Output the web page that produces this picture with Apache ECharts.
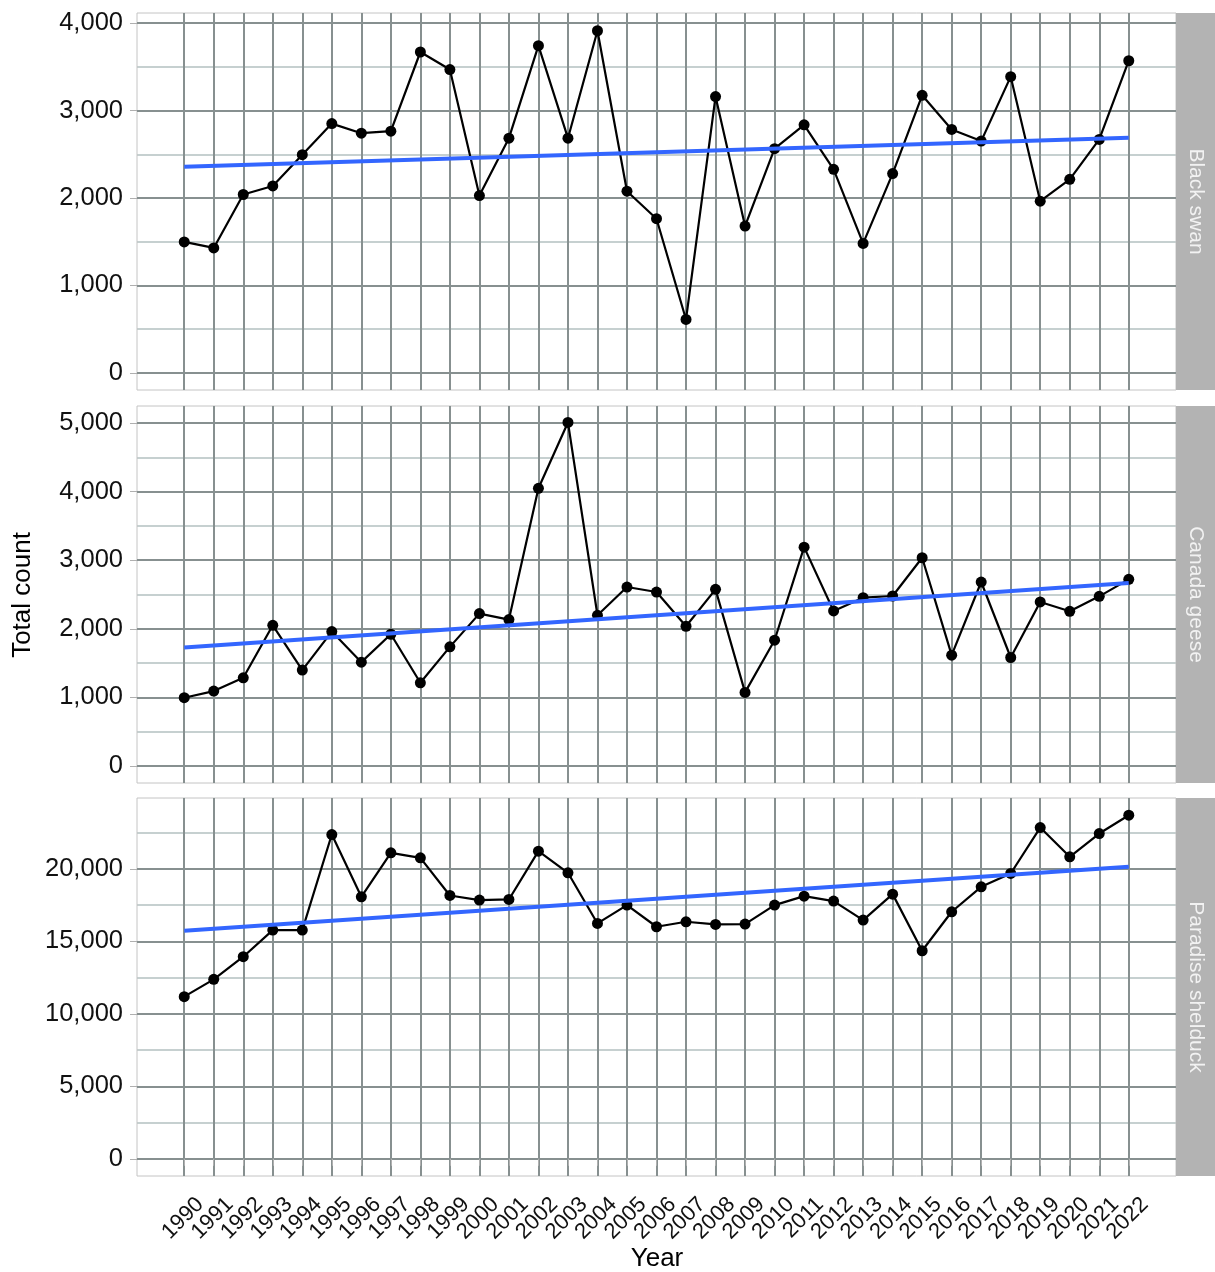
<!DOCTYPE html>
<html><head><meta charset="utf-8">
<script src="https://cdn.jsdelivr.net/npm/echarts@6/dist/echarts.min.js"></script>
<style>html,body{margin:0;padding:0;background:#fff}#c{width:1215px;height:1272px}</style>
</head><body><div id="c"></div>
<script>
const years = [1990,1991,1992,1993,1994,1995,1996,1997,1998,1999,2000,2001,2002,2003,2004,2005,2006,2007,2008,2009,2010,2011,2012,2013,2014,2015,2016,2017,2018,2019,2020,2021,2022];
const blackSwan = [1498,1429,2040,2138,2495,2851,2741,2764,3670,3469,2028,2684,3742,2684,3913,2078,1763,611,3160,1679,2564,2837,2328,1481,2279,3175,2784,2651,3388,1964,2214,2670,3570];
const canadaGeese = [994,1091,1285,2051,1397,1959,1513,1920,1212,1736,2221,2134,4049,5010,2197,2609,2536,2037,2575,1072,1833,3191,2260,2454,2478,3036,1615,2682,1581,2391,2255,2473,2721];
const paradiseShelduck = [11183,12377,13938,15775,15775,22365,18071,21102,20758,18163,17842,17888,21217,19725,16234,17497,16005,16349,16165,16188,17497,18117,17773,16464,18255,14351,17038,18760,19679,22847,20827,22434,23697];
const trendYears = [1990, 2022];
const blackSwanTrend = [2358, 2689];
const canadaGeeseTrend = [1726, 2667];
const paradiseShelduckTrend = [15729, 20138];
const panelNames = ['Black swan', 'Canada geese', 'Paradise shelduck'];
const blackSwanTicks = [0, 1000, 2000, 3000, 4000];
const blackSwanMinor = [500, 1500, 2500, 3500];
const canadaGeeseTicks = [0, 1000, 2000, 3000, 4000, 5000];
const canadaGeeseMinor = [500, 1500, 2500, 3500, 4500];
const paradiseShelduckTicks = [0, 5000, 10000, 15000, 20000];
const paradiseShelduckMinor = [2500, 7500, 12500, 17500, 22500];

const panels = [
  {name: panelNames[0], values: blackSwan, trend: blackSwanTrend, ticks: blackSwanTicks, minor: blackSwanMinor, min: -196, max: 4116, top: 13, height: 377},
  {name: panelNames[1], values: canadaGeese, trend: canadaGeeseTrend, ticks: canadaGeeseTicks, minor: canadaGeeseMinor, min: -250, max: 5250, top: 406, height: 377},
  {name: panelNames[2], values: paradiseShelduck, trend: paradiseShelduckTrend, ticks: paradiseShelduckTicks, minor: paradiseShelduckMinor, min: -1185, max: 24885, top: 798, height: 378}
];

const LEFT = 137, WIDTH = 1039;
const MAJOR = '#879090', MINOR = '#c6d0d0', FONT = 'Liberation Sans, Arial, sans-serif';

const grid = [], xAxis = [], yAxis = [], series = [], graphic = [];
panels.forEach((p, i) => {
  grid.push({left: LEFT, top: p.top, width: WIDTH, height: p.height, show: true, borderColor: '#c4c4c4', borderWidth: 1, backgroundColor: 'transparent', containLabel: false});
  const last = i === panels.length - 1;
  xAxis.push({
    type: 'value', gridIndex: i, min: 1988.4, max: 2023.6,
    axisLine: {show: false},
    axisTick: {show: last, customValues: years, length: 7, lineStyle: {color: '#b0b0b0', width: 1}},
    axisLabel: {show: false},
    splitLine: {show: true, lineStyle: {color: MAJOR, width: 2}}
  });
  yAxis.push({
    type: 'value', gridIndex: i, min: p.min, max: p.max,
    axisLine: {show: false},
    axisTick: {show: true, customValues: p.ticks, length: 7, lineStyle: {color: '#b0b0b0', width: 1}},
    axisLabel: {customValues: p.ticks, margin: 14, fontSize: 25.5, color: '#111', fontFamily: FONT, formatter: v => v.toLocaleString('en-US')},
    splitLine: {show: true, lineStyle: {color: MAJOR, width: 2}}
  });
  yAxis.push({
    type: 'value', gridIndex: i, min: p.min, max: p.max, z: -1,
    axisLine: {show: false},
    axisTick: {show: false, customValues: p.minor},
    axisLabel: {show: false},
    splitLine: {show: true, lineStyle: {color: MINOR, width: 2}}
  });
  series.push({
    type: 'line', xAxisIndex: i, yAxisIndex: i * 2, z: 3,
    data: years.map((y, k) => [y, p.values[k]]),
    symbol: 'circle', symbolSize: 11, showSymbol: true,
    lineStyle: {color: '#000', width: 2.2}, itemStyle: {color: '#000'},
    animation: false, silent: true
  });
  series.push({
    type: 'line', xAxisIndex: i, yAxisIndex: i * 2, z: 4,
    data: trendYears.map((y, k) => [y, p.trend[k]]),
    symbol: 'none', lineStyle: {color: '#3366FF', width: 4},
    animation: false, silent: true
  });
  if (last) {
    // rotated year tick labels, placed through the bottom panel's own scales
    series.push({
      type: 'custom', xAxisIndex: i, yAxisIndex: i * 2, clip: false, silent: true, animation: false,
      data: years.map(y => [y, p.min]),
      renderItem: (params, api) => {
        const pt = api.coord([api.value(0), api.value(1)]);
        return {
          type: 'text', x: pt[0] + 16, y: pt[1] + 25, rotation: Math.PI / 4,
          style: {text: String(api.value(0)), align: 'right', verticalAlign: 'middle', fontSize: 22, fill: '#111', fontFamily: FONT}
        };
      }
    });
  }
  graphic.push({
    type: 'rect', shape: {x: LEFT + WIDTH, y: p.top, width: 1215 - LEFT - WIDTH, height: p.height},
    style: {fill: '#b3b3b3'}, silent: true
  });
  graphic.push({
    type: 'text', x: LEFT + WIDTH + 20, y: p.top + p.height / 2, rotation: -Math.PI / 2,
    style: {text: p.name, fill: '#f2f2f2', fontSize: 21, fontFamily: FONT, align: 'center', verticalAlign: 'middle'}, silent: true
  });
});
graphic.push({
  type: 'text', x: 23, y: 595, rotation: Math.PI / 2,
  style: {text: 'Total count', fill: '#000', fontSize: 26, fontFamily: FONT, align: 'center', verticalAlign: 'middle'}, silent: true
});
graphic.push({
  type: 'text', x: 657, y: 1259,
  style: {text: 'Year', fill: '#000', fontSize: 26, fontFamily: FONT, align: 'center', verticalAlign: 'middle'}, silent: true
});

const chart = echarts.init(document.getElementById('c'), null, {renderer: 'canvas'});
chart.setOption({animation: false, grid, xAxis, yAxis, series, graphic});
</script></body></html>
